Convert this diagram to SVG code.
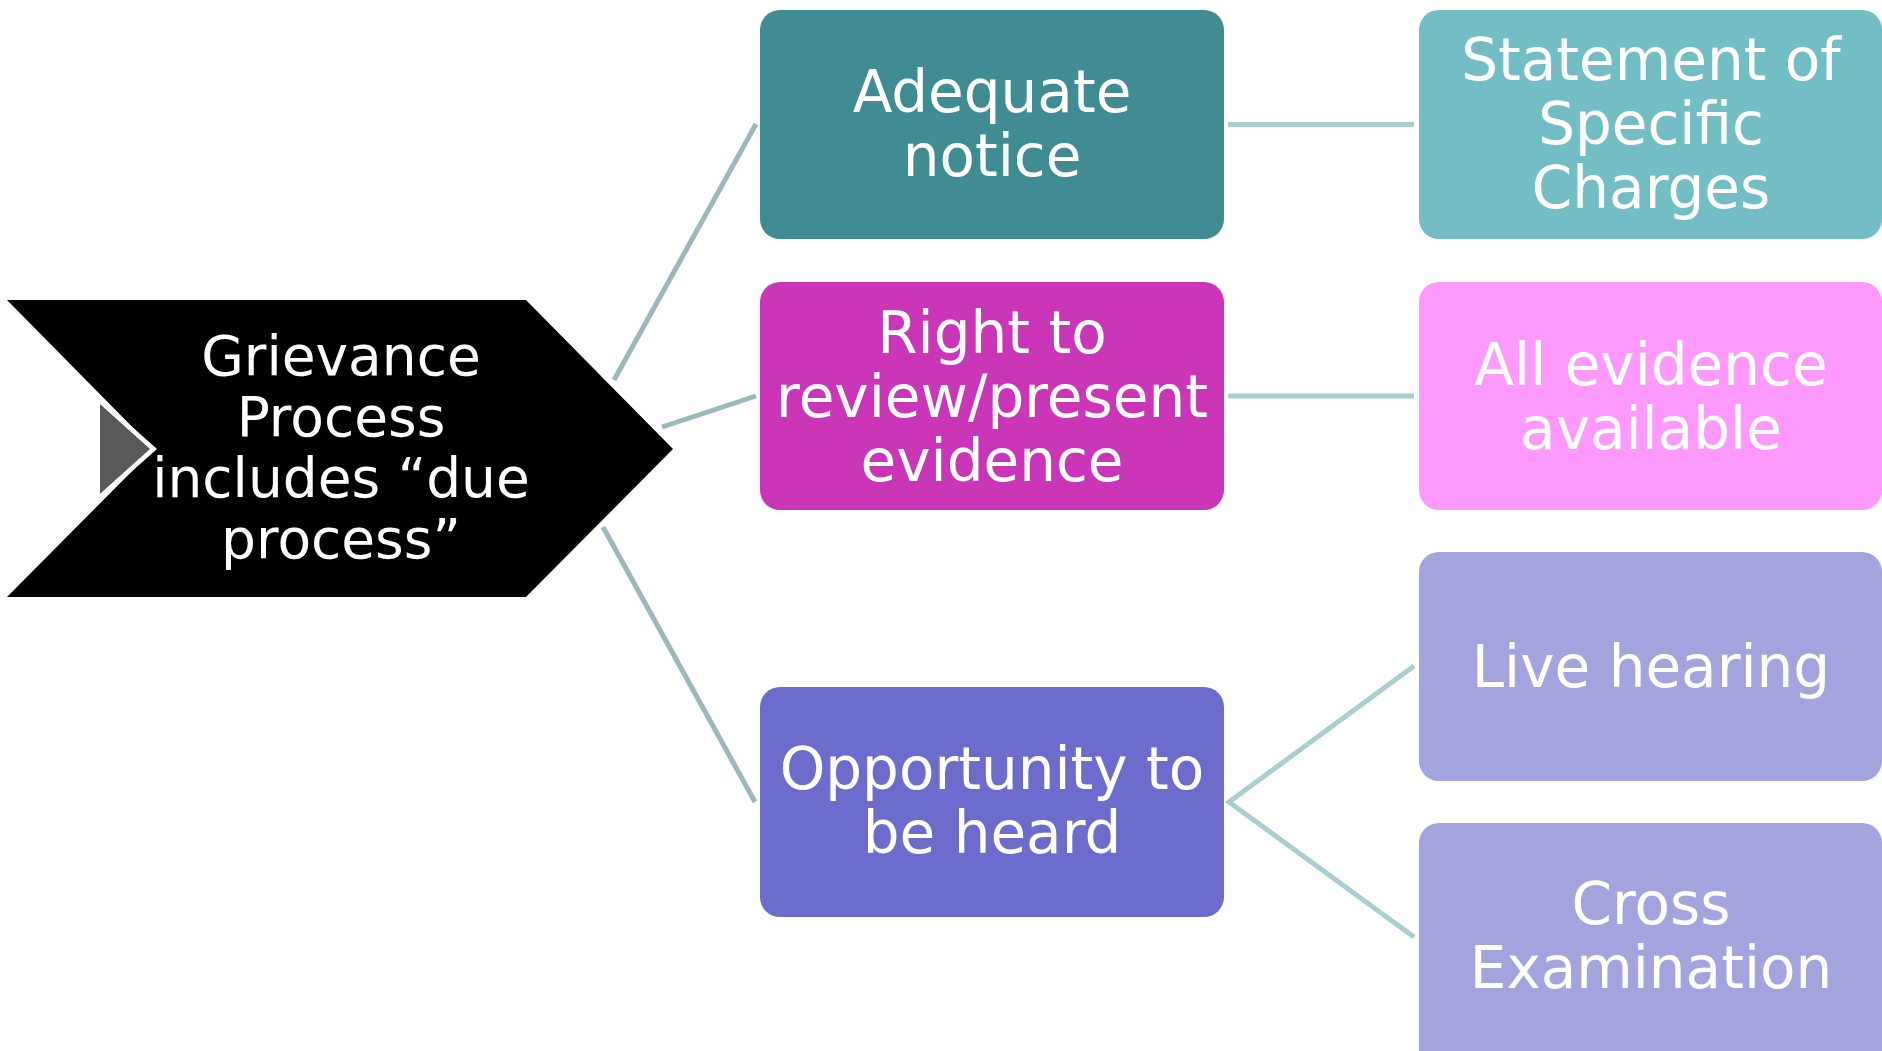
<svg xmlns="http://www.w3.org/2000/svg" width="1882" height="1051" viewBox="0 0 1882 1051">
<style>
.t{font-family:"DejaVu Sans","Liberation Sans",sans-serif;fill:#FFFFFF;text-anchor:middle;font-size:58px}
.tc{font-size:55px}
.cl{stroke:#9BB9BA;stroke-width:5;fill:none}
.cr{stroke:#A9CFD0;stroke-width:5;fill:none}
</style>
<rect width="1882" height="1051" fill="#FFFFFF"/>
<g id="connectors">
<line class="cl" x1="614" y1="380" x2="756" y2="124"/>
<line class="cl" x1="662" y1="427" x2="756" y2="396"/>
<line class="cl" x1="603" y1="527" x2="755" y2="802"/>
<line class="cr" x1="1228" y1="124.5" x2="1414" y2="124.5"/>
<line class="cr" x1="1228" y1="396" x2="1414" y2="396"/>
<polyline class="cr" points="1414,666 1229,802 1414,937"/>
</g>
<g id="node-grievance">
<polygon points="7,300 526,300 673,449 526,597 7,597 154,449" fill="#000000"/>
<path d="M100,404 L150,449 L100,494 Z" fill="#595959"/>
<path d="M100,401 L154,449 L100,497" fill="none" stroke="#FFFFFF" stroke-width="4"/>
<text class="t tc" x="341" y="375">Grievance</text>
<text class="t tc" x="341" y="436">Process</text>
<text class="t tc" x="341" y="497">includes “due</text>
<text class="t tc" x="341" y="558">process”</text>
</g>
<g id="node-adequate">
<rect x="760" y="10" width="464" height="229" rx="20" fill="#3F8C92"/>
<text class="t" x="992" y="112">Adequate</text>
<text class="t" x="992" y="176">notice</text>
</g>
<g id="node-statement">
<rect x="1419" y="10" width="463" height="229" rx="20" fill="#73BEC5"/>
<text class="t" x="1651" y="80">Statement of</text>
<text class="t" x="1651" y="144">Specific</text>
<text class="t" x="1651" y="208">Charges</text>
</g>
<g id="node-right">
<rect x="760" y="282" width="464" height="228" rx="20" fill="#CB35B7"/>
<text class="t" x="992" y="353">Right to</text>
<text class="t" x="992" y="417">review/present</text>
<text class="t" x="992" y="481">evidence</text>
</g>
<g id="node-allevidence">
<rect x="1419" y="282" width="463" height="228" rx="20" fill="#FF99FD"/>
<text class="t" x="1651" y="385">All evidence</text>
<text class="t" x="1651" y="449">available</text>
</g>
<g id="node-opportunity">
<rect x="760" y="687" width="464" height="230" rx="20" fill="#6C6CCC"/>
<text class="t" x="992" y="789">Opportunity to</text>
<text class="t" x="992" y="853">be heard</text>
</g>
<g id="node-live">
<rect x="1419" y="552" width="463" height="229" rx="20" fill="#A3A3DE"/>
<text class="t" x="1651" y="687">Live hearing</text>
</g>
<g id="node-cross">
<rect x="1419" y="823" width="463" height="250" rx="20" fill="#A3A3DE"/>
<text class="t" x="1651" y="924">Cross</text>
<text class="t" x="1651" y="988">Examination</text>
</g>
</svg>
